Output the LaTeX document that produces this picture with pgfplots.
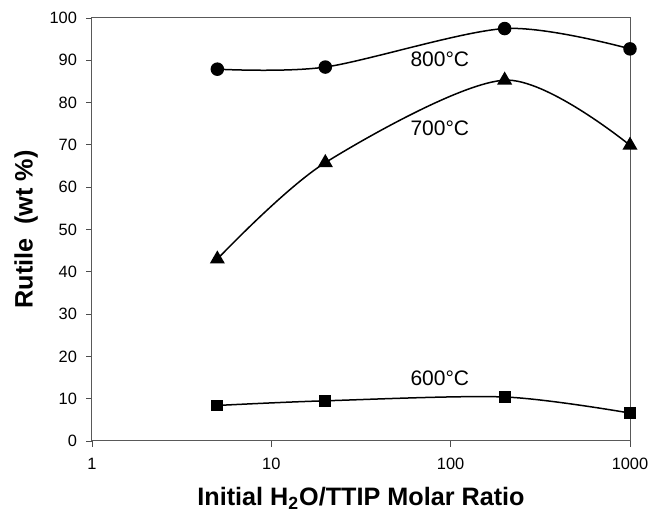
\documentclass[border=0pt]{standalone}
\usepackage{pgfplots}
\pgfplotsset{compat=1.18}
\usepackage{fontspec}
\setmainfont{Liberation Sans}
\begin{document}
\begin{tikzpicture}
\path[use as bounding box] (-46pt,-35.5pt) rectangle (279pt,220.5pt);
\begin{axis}[
  at={(0,0)}, anchor=south west,
  scale only axis, width=269pt, height=211.5pt,
  xmode=log, xmin=1, xmax=1000,
  ymin=0, ymax=100,
  xtick={1,10,100,1000}, xticklabels={1,10,100,1000},
  ytick={0,10,...,100},
  xminorticks=false, yminorticks=false,
  xtick pos=bottom, ytick pos=left,
  /pgf/number format/assume math mode=true,
  ticklabel style={font=\fontsize{8.2}{9}\selectfont},
  tick align=outside, major tick length=3pt,
  tick style={black!70, line width=0.4pt},
  axis line style={black!65, line width=0.5pt},
  xlabel={\textbf{Initial H\textsubscript{2}O/TTIP Molar Ratio}},
  ylabel={\textbf{Rutile\ \ (wt \%)}},
  label style={font=\fontsize{12.6}{14}\selectfont},
  xlabel style={at={(axis description cs:0.5,0)}, anchor=center, yshift=-28.5pt},
  ylabel style={at={(axis description cs:0,0.5)}, anchor=center, rotate=0, yshift=33pt},
  xticklabel style={yshift=-2pt},
  yticklabel style={xshift=-1pt},
  clip=false,
  every axis plot/.append style={black, line width=0.75pt, smooth},
]
\addplot[mark=*, mark size=3pt] coordinates {(5,87.9) (20,88.4) (200,97.5) (1000,92.7)};
\addplot[mark=triangle*, mark size=3.6pt] coordinates {(5,43.0) (20,65.8) (200,85.3) (1000,69.9)};
\addplot[mark=square*, mark size=2.6pt] coordinates {(5,8.4) (20,9.5) (200,10.4) (1000,6.6)};
\node[font=\fontsize{10.5}{12}\selectfont] at (axis cs:87,90.3) {800°C};
\node[font=\fontsize{10.5}{12}\selectfont] at (axis cs:87,74.0) {700°C};
\node[font=\fontsize{10.5}{12}\selectfont] at (axis cs:87,14.9) {600°C};
\end{axis}
\end{tikzpicture}
\end{document}
